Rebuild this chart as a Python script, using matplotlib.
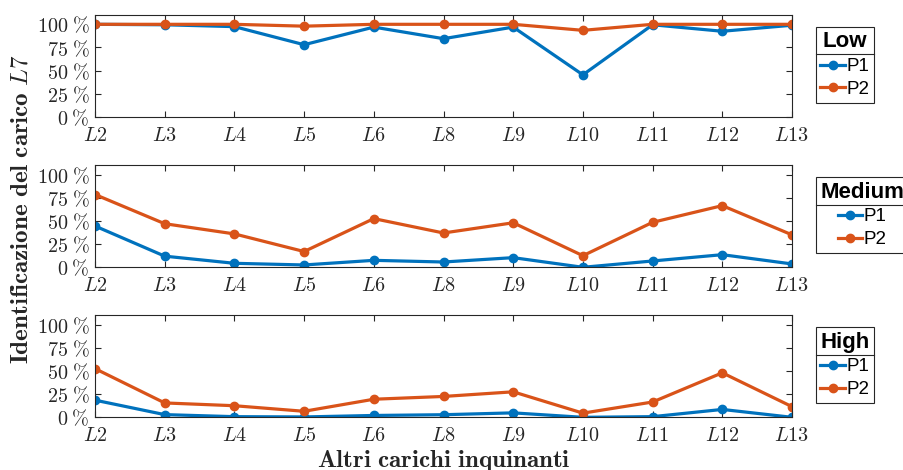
import numpy as np
import matplotlib
matplotlib.use('Agg')
import matplotlib.pyplot as plt
from matplotlib.lines import Line2D

plt.rcParams['mathtext.fontset'] = 'cm'
plt.rcParams['font.family'] = 'serif'
plt.rcParams['font.serif'] = ['cmr10']
plt.rcParams['axes.formatter.use_mathtext'] = True

# other polluting loads on the x axis
carichi = ['L2', 'L3', 'L4', 'L5', 'L6', 'L8', 'L9', 'L10', 'L11', 'L12', 'L13']
livelli = ['Low', 'Medium', 'High']

# identification rate (%) of load L7, per level
p1_low = [100, 99.5, 97.5, 78, 97, 84.5, 97, 45.5, 99.5, 92.5, 99]
p2_low = [100, 100, 100, 98, 100, 100, 100, 93.5, 100, 100, 100]
p1_med = [44.5, 12, 4.3, 2.5, 7.5, 5.7, 10.4, 0, 6.8, 13.6, 3.6]
p2_med = [78.5, 47, 36, 17, 52.5, 37, 48, 12.5, 48.5, 66.5, 35]
p1_high = [18.5, 2.9, 0.7, 0.4, 2, 2.8, 4.8, 0, 0.7, 8.5, 0]
p2_high = [52.5, 15.5, 12.5, 6.5, 19.5, 22.5, 27.5, 4.5, 16.5, 48, 11.5]

dati = [(p1_low, p2_low), (p1_med, p2_med), (p1_high, p2_high)]
yticks = [0, 25, 50, 75, 100]

blu = '#0072BD'
arancio = '#D95319'
grigio = '#262626'

fig = plt.figure(figsize=(9.04, 4.70), dpi=100)
tops = [0.968, 0.6483, 0.3291]
h = 0.2170
x = np.arange(len(carichi))

legende = []
for top, (p1, p2), liv in zip(tops, dati, livelli):
    ax = fig.add_axes([0.1051, top - h, 0.771, h])
    ax.plot(x, p1, '.-', color=blu, lw=2.3, ms=12, label='P1')
    ax.plot(x, p2, '.-', color=arancio, lw=2.3, ms=12, label='P2')
    ax.set_xlim(0, len(carichi) - 1)
    ax.set_ylim(0, 110)
    ax.set_xticks(x)
    ax.set_xticklabels(['$%s$' % c for c in carichi], fontsize=14.5)
    ax.set_yticks(yticks)
    ax.set_yticklabels([r'$%d\;\%%$' % v for v in yticks], fontsize=14.5)
    ax.tick_params(direction='in', top=True, right=True, length=4,
                   color=grigio, labelcolor=grigio, pad=4)
    ax.tick_params(axis='x', pad=7)
    for s in ax.spines.values():
        s.set_color(grigio)
        s.set_linewidth(0.8)
    leg = ax.legend(title=liv, loc='upper left', bbox_to_anchor=(1.034, 0.886),
                    prop={'family': 'Liberation Sans', 'size': 13.5},
                    handlelength=1.3, handletextpad=0.1, borderpad=0.25,
                    labelspacing=0.3, fancybox=False, edgecolor=grigio,
                    framealpha=1, borderaxespad=0)
    leg.get_title().set_fontproperties({'family': 'Liberation Sans',
                                        'weight': 'bold', 'size': 16})
    leg.get_frame().set_linewidth(0.8)
    legende.append(leg)
    ultimo = ax

fig.text(0.024, 0.555, r'$\mathbf{Identificazione\ del\ carico}\ \mathit{L7}$',
         rotation=90, ha='center', va='center', fontsize=18, color=grigio)
ultimo.set_xlabel(r'$\mathbf{Altri\ carichi\ inquinanti}$', fontsize=18,
                  color=grigio, labelpad=2)

# separator line under each legend title
fig.canvas.draw()
inv = fig.transFigure.inverted()
for leg in legende:
    fb = leg.get_frame().get_window_extent()
    tb = leg.get_title().get_window_extent()
    y = tb.y0 - 2
    (x0, yf), = inv.transform([(fb.x0, y)])
    (x1, _), = inv.transform([(fb.x1, y)])
    fig.add_artist(Line2D([x0, x1], [yf, yf], color=grigio, lw=0.8))

fig.savefig('out.png', dpi=100)
